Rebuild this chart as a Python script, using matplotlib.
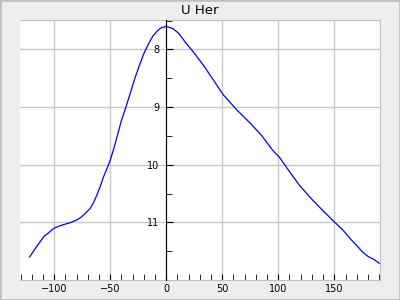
import matplotlib
matplotlib.use('Agg')
import matplotlib.pyplot as plt
from matplotlib.patches import Rectangle
from matplotlib.ticker import MultipleLocator

# light curve (days from max, magnitude)
days = [-122, -115, -109, -105, -102, -100, -95, -90, -85, -80, -76, -72, -68,
        -65, -62, -59, -56, -53, -50, -47, -44, -40, -36, -32, -28, -24, -20,
        -16, -12, -8, -5, 0, 6, 11, 18, 24, 33, 42, 51, 63, 75, 85, 95, 101,
        110, 119, 130, 140, 150, 158, 165, 170, 175, 180, 186, 191]
mags = [11.60, 11.40, 11.24, 11.18, 11.13, 11.10, 11.06, 11.03, 11.00, 10.96,
        10.91, 10.84, 10.76, 10.66, 10.53, 10.38, 10.21, 10.07, 9.92, 9.73,
        9.52, 9.23, 9.00, 8.75, 8.50, 8.28, 8.07, 7.91, 7.77, 7.68, 7.63,
        7.60, 7.64, 7.72, 7.90, 8.04, 8.27, 8.53, 8.79, 9.05, 9.28, 9.49,
        9.75, 9.87, 10.12, 10.36, 10.60, 10.80, 10.99, 11.14, 11.30, 11.40,
        11.51, 11.59, 11.65, 11.72]

fig = plt.figure(figsize=(4, 3), dpi=100)
fig.set_facecolor('#eeeeee')
fig.patches.append(Rectangle((0, 0), 1, 1, transform=fig.transFigure,
                             fill=False, edgecolor='#c0c0c0', linewidth=2))

ax = fig.add_axes([20 / 400, 20 / 300, 360 / 400, 260 / 300])
ax.set_facecolor('white')
ax.plot(days, mags, color='blue', linewidth=0.9)

ax.set_xlim(-130.6, 190.8)
ax.set_ylim(12.0, 7.49)

ax.xaxis.set_major_locator(MultipleLocator(50))
ax.xaxis.set_minor_locator(MultipleLocator(10))
ax.yaxis.set_major_locator(MultipleLocator(1))
ax.yaxis.set_minor_locator(MultipleLocator(0.5))

ax.grid(True, which='major', color='#c8c8c8', linewidth=1)
ax.set_axisbelow(True)

for s in ['top', 'right', 'bottom']:
    ax.spines[s].set_color('#c0c0c0')
ax.spines['left'].set_position(('data', 0))
ax.spines['left'].set_color('black')
ax.spines['left'].set_zorder(3)

ax.tick_params(axis='y', which='major', direction='in', length=5, pad=5,
               labelsize=7, color='black')
ax.tick_params(axis='y', which='minor', direction='in', length=4)
ax.tick_params(axis='x', which='both', direction='in', length=4, pad=3,
               labelsize=7, color='black')

ax.set_yticks([8, 9, 10, 11])
ax.set_yticklabels(['8', '9', '10', '11'])

fig.text(0.5, 1 - 10 / 300, 'U Her', ha='center', va='center', fontsize=9.5)

fig.savefig('out.png', dpi=100, facecolor=fig.get_facecolor())
